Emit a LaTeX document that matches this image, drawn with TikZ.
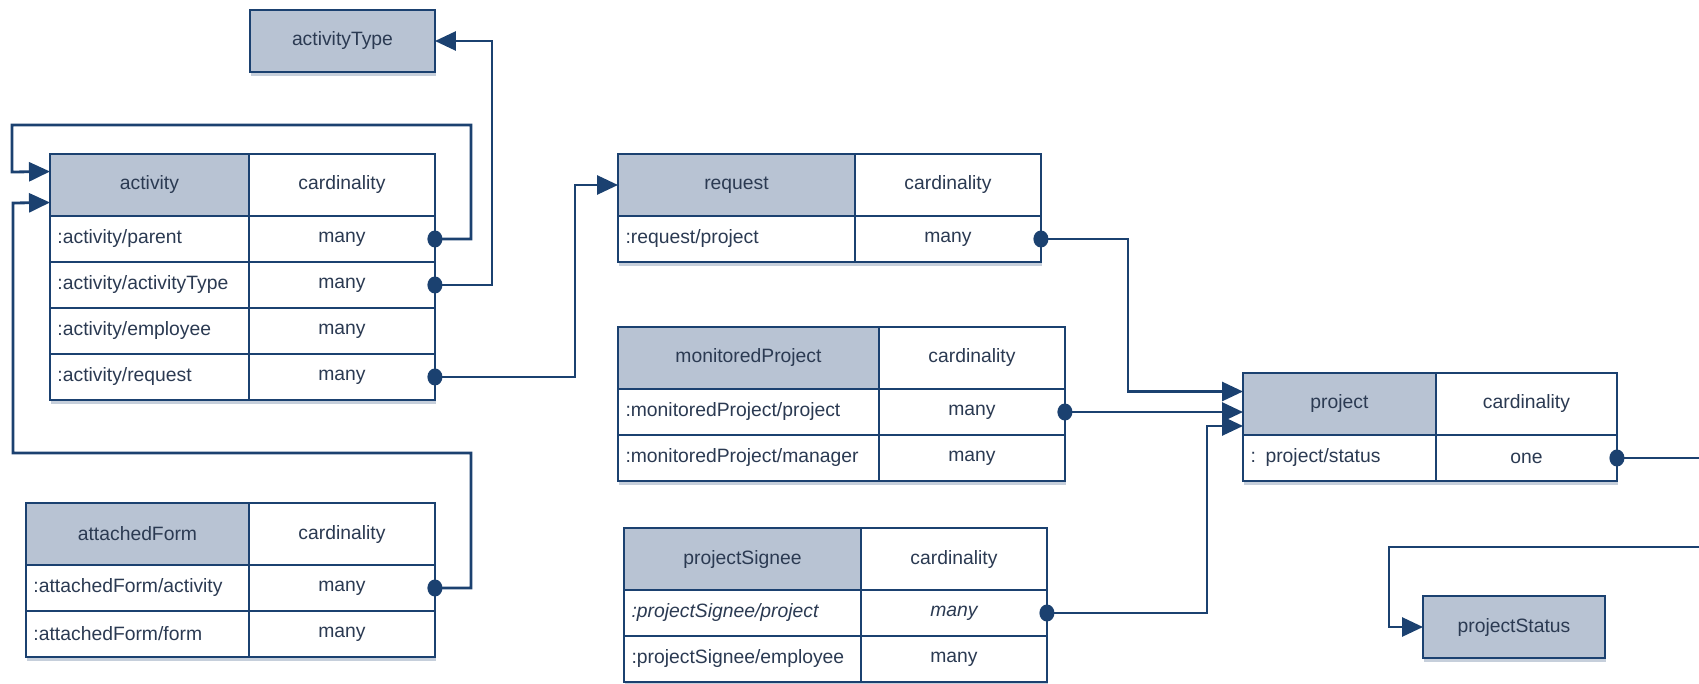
\documentclass[tikz,border=0pt]{standalone}
\usepackage{fontspec}
\setmainfont{Liberation Sans}
\usetikzlibrary{positioning,arrows.meta,shadows}
\definecolor{linec}{HTML}{1B4170}
\definecolor{headc}{HTML}{B8C3D3}
\definecolor{txtc}{HTML}{2B3A52}

\begin{document}
\begin{tikzpicture}[x=0.02cm, y=-0.02cm,
    cell/.style = {draw=linec, line width=1pt, fill=white, text=txtc, inner sep=0pt, outer sep=0pt,
                   minimum height=0.92cm, font=\fontsize{11}{13}\selectfont,
                   drop shadow={shadow xshift=0.5pt, shadow yshift=-2.5pt, opacity=0.25, fill=linec}},
    head/.style = {cell, fill=headc, minimum height=1.24cm, minimum width=#1},
    card/.style = {cell, minimum width=3.72cm},
    cardhead/.style = {card, minimum height=1.24cm},
    attr/.style = {cell, text width=#1, inner xsep=0.15cm, align=left},
    link/.style = {draw=linec, line width=1.6pt, shorten <=-0.15cm,
                   arrows={Circle[length=0.3cm,width=0.34cm]-Triangle[length=0.42cm,width=0.38cm]}}]
  \useasboundingbox (0,0) rectangle (1699,683);
  \clip (0,0) rectangle (1699,683);

  % activityType
  \node[head=3.70cm, anchor=north west] (atype) at (250,10) {activityType};

  % activity
  \node[head=3.98cm, anchor=north west] (act) at (50,154) {activity};
  \node[cardhead, right=0pt of act] (act-c) {cardinality};
  \node[attr=3.68cm, below=0pt of act] (act-1) {:activity/parent};
  \node[card, right=0pt of act-1] (act-1m) {many};
  \node[attr=3.68cm, below=0pt of act-1] (act-2) {:activity/activityType};
  \node[card, right=0pt of act-2] (act-2m) {many};
  \node[attr=3.68cm, below=0pt of act-2] (act-3) {:activity/employee};
  \node[card, right=0pt of act-3] (act-3m) {many};
  \node[attr=3.68cm, below=0pt of act-3] (act-4) {:activity/request};
  \node[card, right=0pt of act-4] (act-4m) {many};

  % attachedForm
  \node[head=4.46cm, anchor=north west] (af) at (26,503) {attachedForm};
  \node[cardhead, right=0pt of af] (af-c) {cardinality};
  \node[attr=4.16cm, below=0pt of af] (af-1) {:attachedForm/activity};
  \node[card, right=0pt of af-1] (af-1m) {many};
  \node[attr=4.16cm, below=0pt of af-1] (af-2) {:attachedForm/form};
  \node[card, right=0pt of af-2] (af-2m) {many};

  % request
  \node[head=4.74cm, anchor=north west] (req) at (618,154) {request};
  \node[cardhead, right=0pt of req] (req-c) {cardinality};
  \node[attr=4.44cm, below=0pt of req] (req-1) {:request/project};
  \node[card, right=0pt of req-1] (req-1m) {many};

  % monitoredProject
  \node[head=5.22cm, anchor=north west] (mp) at (618,327) {monitoredProject};
  \node[cardhead, right=0pt of mp] (mp-c) {cardinality};
  \node[attr=4.92cm, below=0pt of mp] (mp-1) {:monitoredProject/project};
  \node[card, right=0pt of mp-1] (mp-1m) {many};
  \node[attr=4.92cm, below=0pt of mp-1] (mp-2) {:monitoredProject/manager};
  \node[card, right=0pt of mp-2] (mp-2m) {many};

  % projectSignee
  \node[head=4.74cm, anchor=north west] (ps) at (624,528) {projectSignee};
  \node[cardhead, right=0pt of ps] (ps-c) {cardinality};
  \node[attr=4.44cm, below=0pt of ps] (ps-1) {\itshape :projectSignee/project};
  \node[card, right=0pt of ps-1] (ps-1m) {\itshape many};
  \node[attr=4.44cm, below=0pt of ps-1] (ps-2) {:projectSignee/employee};
  \node[card, right=0pt of ps-2] (ps-2m) {many};

  % project
  \node[head=3.86cm, anchor=north west] (prj) at (1243,373) {project};
  \node[cardhead, minimum width=3.62cm, right=0pt of prj] (prj-c) {cardinality};
  \node[attr=3.56cm, below=0pt of prj] (prj-1) {: project/status};
  \node[card, minimum width=3.62cm, right=0pt of prj-1] (prj-1m) {one};

  % projectStatus
  \node[head=3.64cm, anchor=north west] (pst) at (1423,596) {projectStatus};

  % references
  \draw[link] (act-1m.east) -| (471,125) -| (12,172) -- ([yshift=0.27cm]act.west);
  \draw[link] (act-2m.east) -| ([xshift=1.14cm]atype.east) -- (atype.east);
  \draw[link] (af-1m.east) -| (471,453) -| (13,203) -- ([yshift=-0.35cm]act.west);
  \draw[link] (act-4m.east) -| ([xshift=-0.86cm]req.west) -- (req.west);
  \draw[link] (req-1m.east) -| ([xshift=-2.3cm,yshift=0.25cm]prj.west) -- ([yshift=0.25cm]prj.west);
  \draw[link] (mp-1m.east) -- (mp-1m.east -| prj.west);
  \draw[link] (ps-1m.east) -| ([xshift=-0.72cm,yshift=-0.44cm]prj.west) -- ([yshift=-0.44cm]prj.west);
  \draw[link] (prj-1m.east) -| (1720,547) -| ([xshift=-0.68cm]pst.west) -- (pst.west);
\end{tikzpicture}
\end{document}
